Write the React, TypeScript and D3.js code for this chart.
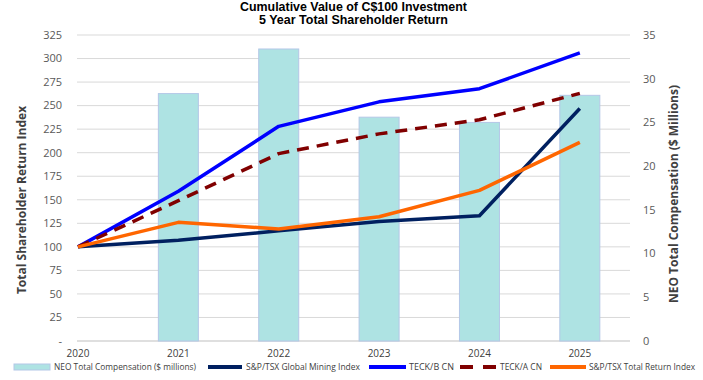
import React from "react";
import * as d3 from "d3";

const years = [2020, 2021, 2022, 2023, 2024, 2025];
const neoComp = [null, 28.3, 33.4, 25.6, 25.0, 28.1];
const globalMining = [100, 107, 117, 127, 133, 247];
const teckB = [100, 159, 228, 254, 268, 306];
const teckA = [100, 149, 199, 220, 235, 263];
const tsxTotal = [100, 126, 119, 132, 160, 211];
const leftTicks = [0, 25, 50, 75, 100, 125, 150, 175, 200, 225, 250, 275, 300, 325];
const rightTicks = [0, 5, 10, 15, 20, 25, 30, 35];

const W = 703, H = 380;
const plotL = 77, plotR = 630, plotT = 35, plotB = 341;

export default function App() {
  const x = d3.scaleLinear().domain([2020, 2025.5]).range([78, 630]);
  const yL = d3.scaleLinear().domain([0, 325]).range([plotB, plotT]);
  const yR = d3.scaleLinear().domain([0, 35]).range([plotB, plotT]);
  const line = d3.line<number>().x((d, i) => x(years[i])).y((d) => yL(d));
  const barW = 40;
  const tickFont = "'Open Sans', 'Noto Sans', sans-serif";
  const titleFont = "'Liberation Sans', Arial, sans-serif";
  const series = [
    { data: globalMining, color: "#002060", dash: "" },
    { data: teckB, color: "#0000ff", dash: "" },
    { data: teckA, color: "#800000", dash: "12 8" },
    { data: tsxTotal, color: "#ff6600", dash: "" },
  ];
  const legend = [
    { label: "NEO Total Compensation ($ millions)", type: "bar", x0: 14, x1: 50, tx: 54, tw: 142 },
    { label: "S&P/TSX Global Mining Index", type: "line", color: "#002060", x0: 208, x1: 242, tx: 246, tw: 114 },
    { label: "TECK/B CN", type: "line", color: "#0000ff", x0: 369, x1: 406, tx: 409, tw: 45 },
    { label: "TECK/A CN", type: "dash", color: "#800000", x0: 460, x1: 497, tx: 500, tw: 42 },
    { label: "S&P/TSX Total Return Index", type: "line", color: "#ff6600", x0: 550, x1: 586, tx: 589, tw: 106 },
  ];
  return (
    <svg width={W} height={H} style={{ position: "absolute", left: 0, top: 0, background: "#fff" }}>
      <text x={353.5} y={11} textAnchor="middle" fontFamily={titleFont} fontWeight="bold" fontSize={12} textLength={227} lengthAdjust="spacingAndGlyphs" fill="#000">Cumulative Value of C$100 Investment</text>
      <text x={353.5} y={24} textAnchor="middle" fontFamily={titleFont} fontWeight="bold" fontSize={12} textLength={189} lengthAdjust="spacingAndGlyphs" fill="#000">5 Year Total Shareholder Return</text>
      {leftTicks.map((t) => (
        <line key={"g" + t} x1={plotL} x2={plotR} y1={yL(t)} y2={yL(t)} stroke={t === 0 ? "#bfbfbf" : "#d9d9d9"} strokeWidth={1} />
      ))}
      {leftTicks.map((t) => (
        <text key={"l" + t} x={62} y={yL(t)} dy="0.35em" textAnchor="end" fontFamily={tickFont} fontSize={11} fill="#595959">{t === 0 ? "-" : t}</text>
      ))}
      {rightTicks.map((t) => (
        <text key={"r" + t} x={643} y={yR(t)} dy="0.35em" textAnchor="start" fontFamily={tickFont} fontSize={11} fill="#595959">{t}</text>
      ))}
      {years.map((yr) => (
        <text key={"x" + yr} x={x(yr)} y={357} textAnchor="middle" fontFamily={tickFont} fontSize={10} fill="#404040">{yr}</text>
      ))}
      {years.map((yr, i) =>
        neoComp[i] == null ? null : (
          <rect key={"b" + yr} x={x(yr) - barW / 2} y={yR(neoComp[i] as number)} width={barW} height={plotB - yR(neoComp[i] as number)} fill="#aee3e3" stroke="#b4c7e7" strokeWidth={1} />
        )
      )}
      {series.map((s, i) => (
        <path key={"s" + i} d={line(s.data) || ""} fill="none" stroke={s.color} strokeWidth={3.5} strokeDasharray={s.dash} strokeLinejoin="round" />
      ))}
      <text transform={`translate(26,${(plotT + plotB) / 2 + 12}) rotate(-90)`} textAnchor="middle" fontFamily={tickFont} fontWeight="bold" fontSize={12} fill="#404040">Total Shareholder Return Index</text>
      <text transform={`translate(678,${(plotT + plotB) / 2 + 6}) rotate(-90)`} textAnchor="middle" fontFamily={tickFont} fontWeight="bold" fontSize={12} fill="#404040">NEO Total Compensation ($ Millions)</text>
      {legend.map((l, i) => (
        <g key={"lg" + i}>
          {l.type === "bar" ? (
            <rect x={l.x0} y={364} width={l.x1 - l.x0} height={6} fill="#aee3e3" stroke="#b4c7e7" />
          ) : (
            <line x1={l.x0} x2={l.x1} y1={367} y2={367} stroke={l.color} strokeWidth={4} strokeDasharray={l.type === "dash" ? "13 10" : ""} />
          )}
          <text x={l.tx} y={367} dy="0.35em" fontFamily={tickFont} fontSize={9} textLength={l.tw} lengthAdjust="spacingAndGlyphs" fill="#404040">{l.label}</text>
        </g>
      ))}
    </svg>
  );
}
